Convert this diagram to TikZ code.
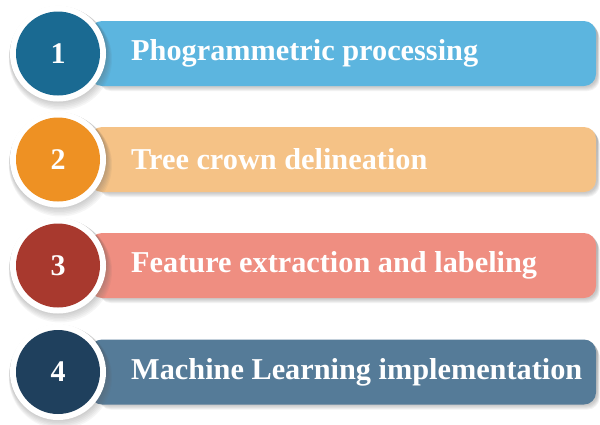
\documentclass[tikz,border=0pt]{standalone}
\usepackage{fontspec}
\setmainfont{Liberation Serif}

\definecolor{barA}{HTML}{5CB5DF}
\definecolor{dotA}{HTML}{1A6A92}
\definecolor{barB}{HTML}{F5C286}
\definecolor{dotB}{HTML}{EE9123}
\definecolor{barC}{HTML}{EF8E81}
\definecolor{dotC}{HTML}{A8392E}
\definecolor{barD}{HTML}{557B98}
\definecolor{dotD}{HTML}{1F405D}
\definecolor{shade}{HTML}{3A3F5A}

\tikzset{
  x=1pt, y=-1pt,
  stepbar/.style={rounded corners=12pt},
  steplabel/.style={anchor=west, inner sep=0pt, text=white,
    font=\fontsize{30.3}{33}\selectfont\bfseries},
  stepnum/.style={text=white, inner sep=0pt,
    font=\fontsize{30}{33}\selectfont\bfseries},
}

% one step: #1 centre y, #2 bar colour, #3 disc colour, #4 number, #5 caption, #6 name
\newcommand{\stepitem}[6]{%
  % soft shadow under the bar
  \foreach \k in {1,...,5}{
    \fill[shade, opacity=0.05, stepbar]
      (96+\k*0.6, #1-32.5+\k*1.0) rectangle (597+\k*0.5, #1+32.5+\k*1.0);
  }
  \fill[#2, stepbar] (90, #1-32.5) rectangle (596, #1+32.5);
  % soft shadow round the disc
  \foreach \k in {1,...,6}{
    \fill[shade, opacity=0.035] (58+\k*0.4, #1+\k*0.9) circle (48+\k*0.6);
  }
  \fill[white] (58, #1) circle (48);
  \node[circle, fill=#3, minimum size=84pt, inner sep=0pt] (#6) at (58, #1) {};
  \node[stepnum] (#6num) at (#6) {#4};
  \node[steplabel] (#6txt) at (131, #1) {#5};
}

\begin{document}
\begin{tikzpicture}
  \useasboundingbox (0,0) rectangle (600,424);
  \stepitem{53.5}{barA}{dotA}{1}{Phogrammetric processing}{s1}
  \stepitem{159.5}{barB}{dotB}{2}{Tree crown delineation}{s2}
  \stepitem{265.5}{barC}{dotC}{3}{Feature extraction and labeling}{s3}
  \stepitem{372}{barD}{dotD}{4}{Machine Learning implementation}{s4}
\end{tikzpicture}
\end{document}
